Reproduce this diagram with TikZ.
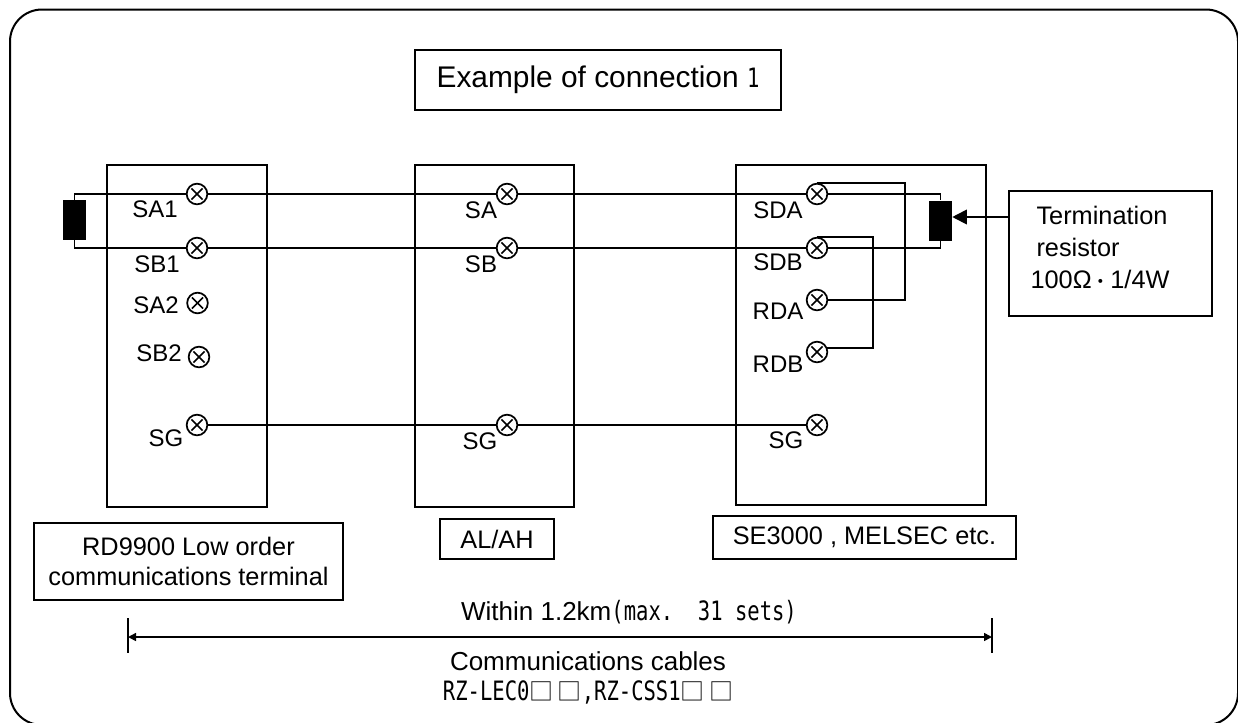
\documentclass[tikz,border=0pt]{standalone}
\usepackage{fontspec}
\setmainfont{Liberation Sans}
\newfontfamily\gothicfont[FakeStretch=0.77]{DejaVu Sans Mono}
\newfontfamily\cjkfont{Noto Sans CJK JP}
\usetikzlibrary{arrows.meta,calc,positioning}
\newcommand{\gothic}[1]{{\gothicfont\fontsize{20}{22}\selectfont #1}}
\newcommand{\sq}{{\cjkfont\fontsize{18}{22}\selectfont □}}
\tikzset{
    terminal/.style={draw,circle,line width=1.3pt,inner sep=0pt,minimum size=15.5pt,
        path picture={
            \draw[line width=1.1pt] ($(path picture bounding box.center)+(-4.2pt,-4.2pt)$) -- ($(path picture bounding box.center)+(4.2pt,4.2pt)$);
            \draw[line width=1.1pt] ($(path picture bounding box.center)+(-4.2pt,4.2pt)$) -- ($(path picture bounding box.center)+(4.2pt,-4.2pt)$);
        }},
    unitbox/.style={draw,line width=1.2pt,inner sep=0pt},
    textbox/.style={draw,line width=1.2pt,inner sep=0pt,align=center,font=\fontsize{19}{22.5}\selectfont},
    pinlabel/.style={inner sep=0pt,font=\fontsize{18}{20}\selectfont},
    note/.style={inner sep=0pt,align=center,font=\fontsize{19.5}{24}\selectfont},
    resistor/.style={fill=black,inner sep=0pt,minimum width=17.25pt,minimum height=30pt},
    wire/.style={line width=1.4pt}
}
\begin{document}
\begin{tikzpicture}[x=0.75pt,y=-0.75pt]
    \useasboundingbox (0,0) rectangle (1238,722);

    % outer frame
    \draw[line width=1.5pt,rounded corners=24pt] (10,9.5) rectangle (1238,725);

    % title and units
    \node[textbox,minimum width=274.5pt,minimum height=45pt] (title) at (598,80)
        {\fontsize{22.4}{26}\selectfont Example of connection \gothic{1}};
    \node[unitbox,minimum width=120pt,minimum height=256.5pt] (lowunit) at (187,336) {};
    \node[unitbox,minimum width=119.25pt,minimum height=256.5pt] (alunit) at (494.5,336) {};
    \node[unitbox,minimum width=187.5pt,minimum height=255pt] (seunit) at (861,335) {};

    % captions under the units
    \node[textbox,minimum width=231.75pt,minimum height=57.75pt] (lowcap) at (188.5,561.5)
        {RD9900 Low order\\communications terminal};
    \node[textbox,minimum width=85.5pt,minimum height=30pt] (alcap) at (497,539) {AL/AH};
    \node[textbox,minimum width=227pt,minimum height=32.25pt] (secap) at (864.5,537.5) {SE3000 , MELSEC etc.};

    % terminals
    \node[terminal] (sa1) at (197,194) {};
    \node[terminal] (sb1) at (197,248) {};
    \node[terminal] (sa2) at (197.5,303) {};
    \node[terminal] (sb2) at (199,357) {};
    \node[terminal] (sg1) at (197,425) {};
    \node[terminal] (sa) at (507,194) {};
    \node[terminal] (sb) at (507,248) {};
    \node[terminal] (sg) at (507,425) {};
    \node[terminal] (sda) at (817,194) {};
    \node[terminal] (sdb) at (817,248) {};
    \node[terminal] (rda) at (817,300) {};
    \node[terminal] (rdb) at (817,352) {};
    \node[terminal] (sg3) at (817,425) {};

    % terminal labels
    \node[pinlabel] (lsa1) at (155,209) {SA1};
    \node[pinlabel] (lsb1) at (157,264) {SB1};
    \node[pinlabel] (lsa2) at (156,305) {SA2};
    \node[pinlabel] (lsb2) at (159,353) {SB2};
    \node[pinlabel] (lsg1) at (166,438) {SG};
    \node[pinlabel] (lsa) at (481,210) {SA};
    \node[pinlabel] (lsb) at (481,264) {SB};
    \node[pinlabel] (lsg) at (480,441) {SG};
    \node[pinlabel] (lsda) at (778,210) {SDA};
    \node[pinlabel] (lsdb) at (778,262) {SDB};
    \node[pinlabel] (lrda) at (778,311) {RDA};
    \node[pinlabel] (lrdb) at (778,364) {RDB};
    \node[pinlabel] (lsg3) at (786,440) {SG};

    % termination resistors
    \node[resistor] (resl) at (74.5,220) {};
    \node[resistor] (resr) at (940.5,220.5) {};
    \node[unitbox,minimum width=152.25pt,minimum height=93.75pt] (term) at (1110.5,253.5) {};
    \node[note,align=left,font=\fontsize{19}{24}\selectfont] (termtext) at (1100,247)
        {\hspace*{4.5pt}Termination\\\hspace*{4.5pt}resistor\\100Ω{\cjkfont\fontsize{14}{24}\selectfont ・}1/4W};

    % wiring
    \draw[wire] (resl.north) |- (sa1.west);
    \draw[wire] (resl.south) |- (sb1.west);
    \draw[wire] (sa1.east) -- (sa.west);
    \draw[wire] (sb1.east) -- (sb.west);
    \draw[wire] (sg1.east) -- (sg.west);
    \draw[wire] (sa.east) -- (sda.west);
    \draw[wire] (sb.east) -- (sdb.west);
    \draw[wire] (sg.east) -- (sg3.west);
    \draw[wire] (sda.east) -| (resr.north);
    \draw[wire] (sdb.east) -| (resr.south);
    \coordinate (jumpa) at ($(sda.north)+(88,0)$);
    \coordinate (jumpb) at ($(sdb.north)+(56,0)$);
    \draw[wire] (sda.north) -- (jumpa) |- (rda.east);
    \draw[wire] (sdb.north) -- (jumpb) |- (rdb.22);

    % arrow from the note to the resistor
    \coordinate (termin) at (1009,217);
    \draw[wire,-{Triangle[length=11pt,width=11pt]}] (termin) -- (termin -| resr.east);

    % length of the run
    \coordinate (tickl) at (128,618);
    \coordinate (tickr) at (992,618);
    \draw[line width=1.2pt] (tickl) -- ++(0,35);
    \draw[line width=1.2pt] (tickr) -- ++(0,35);
    \draw[line width=1.2pt,{Triangle[length=6pt,width=6pt]}-{Triangle[length=6pt,width=6pt]}] ($(tickl)+(0,19)$) -- ($(tickr)+(0,19)$);

    \node[note] (within) at (629,612) {Within 1.2km\gothic{(max.\ \ 31 sets)}};
    \node[note] (cables) at (588,661) {Communications cables};
    \node[note] (cablenames) at (588,692) {\gothic{RZ-LEC0}\sq\,\sq\gothic{,RZ-CSS1}\sq\,\sq};
\end{tikzpicture}
\end{document}
